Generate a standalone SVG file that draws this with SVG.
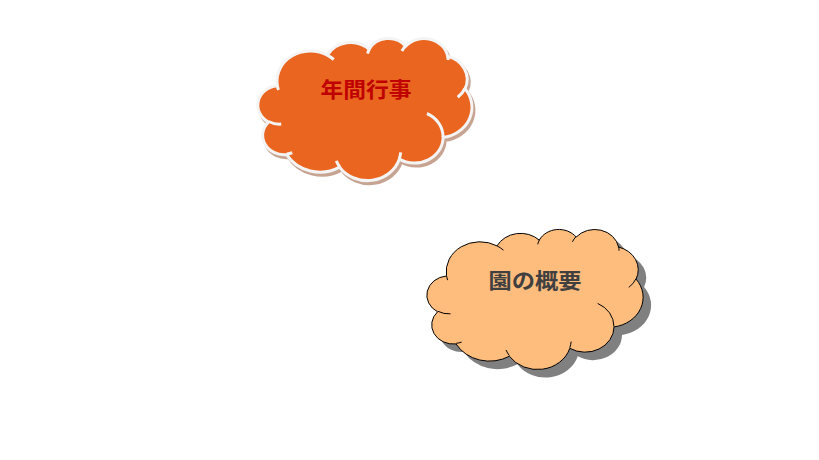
<svg xmlns="http://www.w3.org/2000/svg" xmlns:xlink="http://www.w3.org/1999/xlink" width="819" height="460" viewBox="0 0 819 460">
  <style>
    .lbl { font-family: "Noto Sans CJK JP", "Noto Sans CJK SC", sans-serif; font-weight: bold; font-size: 21px; text-anchor: middle; dominant-baseline: central; }
    .c1 { fill: #EA651F; stroke: #F4F4F4; stroke-width: 3; }
    .c1sh { fill: #C7A391; stroke: #C7A391; stroke-width: 3; }
    .c1hook { fill: none; stroke: #F4F4F4; stroke-width: 3; }
    .c2 { fill: #FFBD7D; stroke: #000000; stroke-width: 1; }
    .c2sh { fill: #808080; stroke: none; }
    .c2hook { fill: none; stroke: #000000; stroke-width: 1; }
  </style>
  <defs>
    <path id="cloud" d="M19.50,46.57 A33.77,29.78 0 0 1 70.03,16.86 A26.67,23.55 0 0 1 112.28,11.12 A21.83,19.27 0 0 1 149.17,8.04 A24.29,21.37 0 0 1 191.59,18.07 A26.67,23.57 0 0 1 209.09,50.10 A33.88,29.88 0 0 1 187.02,97.88 A28.93,25.49 0 0 1 142.78,119.30 A33.76,29.86 0 0 1 82.40,127.25 A38.6,34.17 0 0 1 29.02,114.95 A21.8,19.18 0 0 1 10.57,82.80 A21.73,19.27 0 0 1 19.32,47.01 Z"/>
    <path id="hooks" d="M23.47,84.83 A21.73,19.27 0 0 1 10.80,82.25 M34.64,113.10 A21.8,19.18 0 0 1 29.10,114.33 M82.39,126.68 A33.76,29.86 0 0 1 79.05,121.04 M144.14,112.62 A33.76,29.86 0 0 1 142.80,118.81 M170.65,74.39 A28.93,25.49 0 0 1 186.90,97.51 M208.99,49.76 A26.67,23.57 0 0 1 201.75,58.43 M191.62,17.58 A24.29,21.37 0 0 1 192.00,21.68 M145.39,12.81 A24.29,21.37 0 0 1 149.10,7.58 M110.71,15.30 A21.83,19.27 0 0 1 112.50,10.79 M70.0,16.83 A33.77,29.78 0 0 1 76.50,21.20 M20.64,51.17 A33.77,29.78 0 0 1 19.50,46.57"/>
  </defs>
  <rect width="819" height="460" fill="#FFFFFF"/>
  <g id="connectors"></g>
  <g id="node-nenkan-gyoji">
    <use xlink:href="#cloud" href="#cloud" class="c1sh" transform="translate(260,41) scale(0.99,1.015)"/>
    <use xlink:href="#cloud" href="#cloud" class="c1" transform="translate(258,38) scale(0.99,1.015)"/>
    <use xlink:href="#hooks" href="#hooks" class="c1hook" transform="translate(258,38) scale(0.99,1.015)"/>
    <text class="lbl" x="366" y="88" fill="#C00000" textLength="91" lengthAdjust="spacingAndGlyphs">年間行事</text>
  </g>
  <g id="node-en-no-gaiyo">
    <use xlink:href="#cloud" href="#cloud" class="c2sh" transform="translate(435,237)"/>
    <use xlink:href="#cloud" href="#cloud" class="c2" transform="translate(427,229)"/>
    <use xlink:href="#hooks" href="#hooks" class="c2hook" transform="translate(427,229)"/>
    <text class="lbl" x="535" y="278.5" fill="#404040" textLength="93" lengthAdjust="spacingAndGlyphs">園の概要</text>
  </g>
</svg>
